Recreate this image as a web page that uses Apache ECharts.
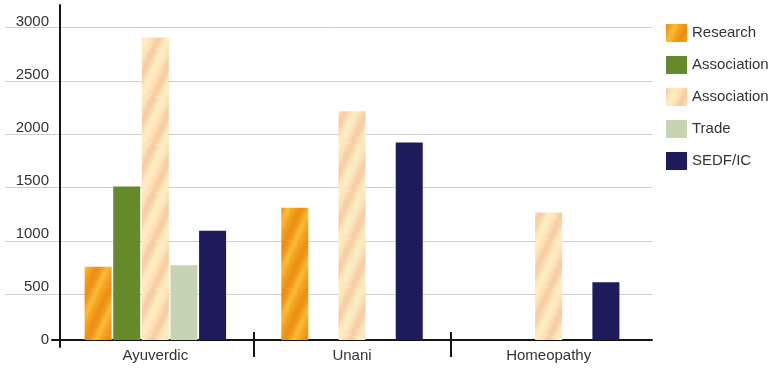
<!DOCTYPE html>
<html>
<head>
<meta charset="utf-8">
<script src="https://cdn.jsdelivr.net/npm/echarts@6/dist/echarts.min.js"></script>
<style>
  html, body { margin: 0; padding: 0; background: #ffffff; }
  #chart { width: 775px; height: 371px; }
</style>
</head>
<body>
<div id="chart"></div>
<script>
// Funding by system of medicine
const categories = ['Ayuverdic', 'Unani', 'Homeopathy'];
const seriesNames = ['Research', 'Association', 'Association ', 'Trade', 'SEDF/IC'];
const research = [690, 1245, null];
const associationA = [1445, null, null];
const associationB = [2850, 2155, 1200];
const trade = [705, null, null];
const sedf = [1030, 1860, 545];
const yTicks = [0, 500, 1000, 1500, 2000, 2500, 3000];

const FONT = "'Liberation Sans', Arial, sans-serif";

// Diagonal striped fill, tiled seamlessly
function stripes(base, dark, light) {
  const w = 22, h = 48;
  const c = document.createElement('canvas');
  c.width = w; c.height = h;
  const g = c.getContext('2d');
  g.fillStyle = base;
  g.fillRect(0, 0, w, h);
  const drawBand = (color, width, shift, alpha) => {
    g.save();
    g.globalAlpha = alpha;
    g.strokeStyle = color;
    g.lineWidth = width;
    for (let k = -2; k <= 2; k++) {
      g.beginPath();
      g.moveTo(k * w + shift, h);
      g.lineTo((k + 1) * w + shift, 0);
      g.stroke();
    }
    g.restore();
  };
  drawBand(dark, 10, 0, 0.25);
  drawBand(dark, 5, 0, 0.45);
  drawBand(light, 7, 10, 0.35);
  drawBand(light, 3, 10, 0.4);
  return { image: c, repeat: 'repeat' };
}

const colors = [
  stripes('#f5a31f', '#e8850e', '#ffc64a'),
  '#648a2b',
  stripes('#fde3b6', '#f4c098', '#fff0cf'),
  '#c7d4b4',
  '#1d1b5c'
];
const values = [research, associationA, associationB, trade, sedf];

const chart = echarts.init(document.getElementById('chart'), null, { renderer: 'canvas' });

const option = {
  backgroundColor: '#ffffff',
  animation: false,
  textStyle: { fontFamily: FONT },
  legend: {
    orient: 'vertical',
    left: 661,
    top: 19,
    itemWidth: 21,
    itemHeight: 18,
    itemGap: 14,
    icon: 'rect',
    data: seriesNames,
    formatter: n => n.trim(),
    textStyle: { fontSize: 15, color: '#333333', fontFamily: FONT }
  },
  grid: [
    // 0: horizontal guide lines
    { left: 5, right: 123, top: 27.7, bottom: 76.7 },
    // 1: bars and value labels
    { left: 57, right: 128, top: 21.5, bottom: 31 },
    // 2: vertical axis line
    { left: 60, right: 123, top: 5, bottom: 24 },
    // 3: horizontal axis line
    { left: 52, right: 123, top: 21.5, bottom: 31 },
    // 4: category separator ticks
    { left: 57, right: 128, top: 332, bottom: 14 }
  ],
  xAxis: [
    { gridIndex: 0, type: 'value', show: false, min: 0, max: 1 },
    {
      gridIndex: 1, type: 'category', data: categories,
      axisLine: { show: false }, axisTick: { show: false },
      axisLabel: { margin: 8, fontSize: 15, color: '#333333', fontFamily: FONT }
    },
    { gridIndex: 2, type: 'value', show: false, min: 0, max: 1 },
    {
      gridIndex: 3, type: 'value', min: 0, max: 1,
      axisLine: { show: true, lineStyle: { color: '#151515', width: 2 } },
      axisTick: { show: false }, axisLabel: { show: false }, splitLine: { show: false }
    },
    {
      gridIndex: 4, type: 'value', min: 0, max: categories.length, interval: 1,
      axisLine: { show: false }, axisTick: { show: false }, axisLabel: { show: false },
      splitLine: { show: true, showMinLine: false, showMaxLine: false, lineStyle: { color: '#151515', width: 2 } }
    }
  ],
  yAxis: [
    {
      gridIndex: 0, type: 'value', min: 500, max: 3000, interval: 500,
      axisLine: { show: false }, axisTick: { show: false }, axisLabel: { show: false },
      splitLine: { show: true, lineStyle: { color: '#cfcfcf', width: 1 } }
    },
    {
      gridIndex: 1, type: 'value', min: yTicks[0], max: yTicks[yTicks.length - 1], interval: 500,
      axisLine: { show: false }, axisTick: { show: false }, splitLine: { show: false },
      axisLabel: {
        margin: 8, fontSize: 15, color: '#333333', fontFamily: FONT,
        formatter: v => String(v)
      }
    },
    {
      gridIndex: 2, type: 'value', min: 0, max: 1,
      axisLine: { show: true, lineStyle: { color: '#151515', width: 2 } },
      axisTick: { show: false }, axisLabel: { show: false }, splitLine: { show: false }
    },
    { gridIndex: 3, type: 'value', show: false, min: 0, max: 1 },
    { gridIndex: 4, type: 'value', show: false, min: 0, max: 1 }
  ],
  series: seriesNames.map((name, i) => ({
    name: name,
    type: 'bar',
    xAxisIndex: 1,
    yAxisIndex: 1,
    data: values[i],
    barWidth: 27,
    barGap: '6%',
    itemStyle: { color: colors[i] },
    z: 3
  }))
};

chart.setOption(option);
</script>
</body>
</html>
